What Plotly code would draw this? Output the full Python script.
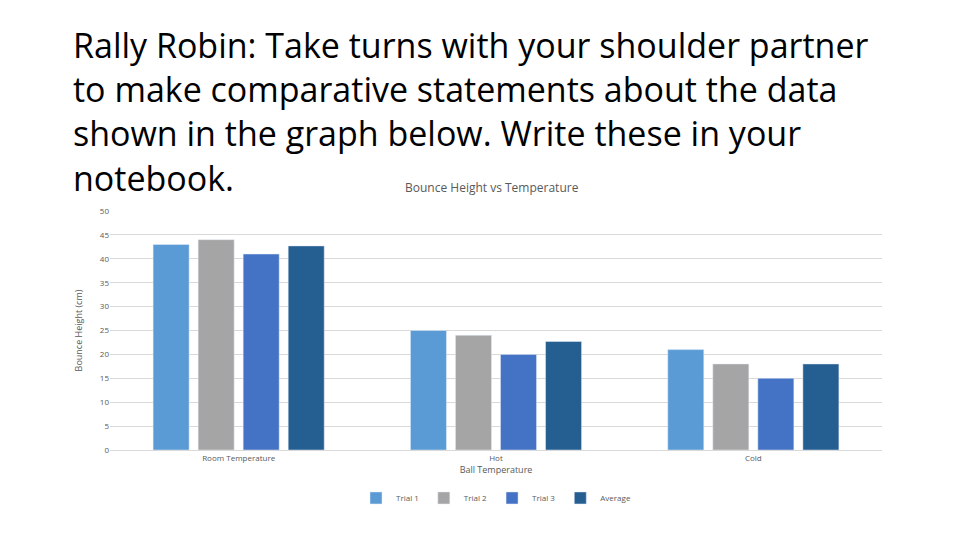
import plotly.graph_objects as go

categories = ["Room Temperature", "Hot", "Cold"]
trial1 = [43, 25, 21]
trial2 = [44, 24, 18]
trial3 = [41, 20, 15]
average = [42.7, 22.7, 18]

series = [("Trial 1", trial1, "#5B9BD5"), ("Trial 2", trial2, "#A5A5A5"),
          ("Trial 3", trial3, "#4472C4"), ("Average", average, "#255E91")]

fig = go.Figure()
for name, vals, color in series:
    fig.add_trace(go.Bar(x=categories, y=vals, name=name, marker_color=color))

fig.update_layout(
    width=960, height=540,
    paper_bgcolor="white", plot_bgcolor="white",
    margin=dict(l=102, r=86, t=203, b=98),
    barmode="group", bargap=0.3, bargroupgap=0.2,
    font=dict(family="Open Sans", color="#595959", size=8),
    legend=dict(orientation="h", x=0.5, xanchor="center", y=-0.14, yanchor="top",
                font=dict(size=8), itemwidth=30, tracegroupgap=0),
    xaxis=dict(title=dict(text="Ball Temperature", font=dict(size=9), standoff=2),
               showline=True, linecolor="#D9D9D9", tickfont=dict(size=8)),
    yaxis=dict(title=dict(text="Bounce Height (cm)", font=dict(size=9)),
               range=[0, 50], dtick=5, gridcolor="#D9D9D9", zeroline=False,
               tickfont=dict(size=8)),
)
fig.add_annotation(
    text="Rally Robin: Take turns with your shoulder partner<br>"
         "to make comparative statements about the data<br>"
         "shown in the graph below. Write these in your<br>notebook.",
    xref="paper", yref="paper", x=-0.05, y=1.8, xanchor="left", yanchor="top",
    align="left", showarrow=False,
    font=dict(family="Open Sans", size=34, color="#000000"),
)
fig.add_annotation(
    text="Bounce Height vs Temperature", xref="paper", yref="paper",
    x=0.495, y=1.1, xanchor="center", yanchor="middle", showarrow=False,
    font=dict(size=12, color="#595959"),
)
fig.write_html("out.html")
